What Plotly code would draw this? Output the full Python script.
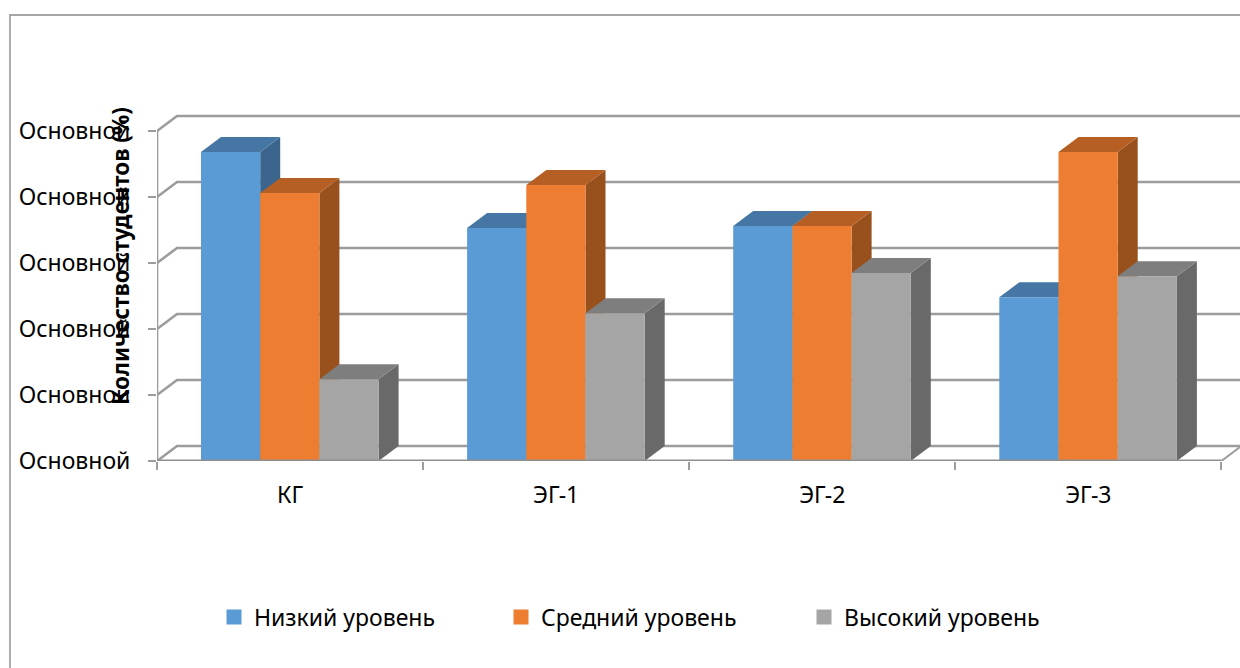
import plotly.graph_objects as go

# Share of students at each level per group, percent
categories = ["КГ", "ЭГ-1", "ЭГ-2", "ЭГ-3"]
low_level = [46.8, 35.3, 35.6, 24.8]
mid_level = [40.6, 41.8, 35.6, 46.8]
high_level = [12.4, 22.4, 28.5, 28.0]
series_names = ["Низкий уровень", "Средний уровень", "Высокий уровень"]
y_ticks = [0, 10, 20, 30, 40, 50]
y_tick_labels = ["Основной"] * 6
axis_title = "Количество студентов (%)"

FRONT = ["#5b9bd5", "#ed7d31", "#a5a5a5"]
TOP = ["#4676a3", "#b55f25", "#7e7e7e"]
SIDE = ["#3c658d", "#98501c", "#696969"]
GRID = "#9c9c9c"
FONT = "Noto Sans"
SIZE = 23
INK = "#000000"

# Plot frame in page pixels
LEFT, BASE, TOP_PX = 157, 461, 100
PLOT_W, PLOT_H = 1240 - LEFT, BASE - TOP_PX
UNIT_X = 266.1
UNIT_Y = 6.6

# Oblique projection of the 3D box, in data units
DX = 20 / UNIT_X
DY = 15 / UNIT_Y
BAR_W = 59.2 / UNIT_X
GROUP_PAD = 44 / UNIT_X
X_MAX = PLOT_W / UNIT_X
Y_MAX = PLOT_H / UNIT_Y

fig = go.Figure()


def polygon(xs, ys, color):
    fig.add_trace(go.Scatter(x=xs, y=ys, mode="lines", fill="toself", fillcolor=color,
                             line=dict(width=0), showlegend=False, hoverinfo="skip"))


def wire(xs, ys, width=2.6, color=GRID):
    fig.add_trace(go.Scatter(x=xs, y=ys, mode="lines", line=dict(color=color, width=width),
                             showlegend=False, hoverinfo="skip", cliponaxis=False))


# Back wall gridlines with their slanted left edges
for v in y_ticks:
    wire([0, DX, X_MAX], [v, v + DY, v + DY])
# Right edge of the floor and the vertical axis
wire([4, 4 + DX], [0, DY], width=2)
wire([0, 0], [0, 50])

# Boxes are painted left to right so that each front covers its neighbour's side
for g in range(len(categories)):
    for s, values in enumerate([low_level, mid_level, high_level]):
        v = values[g]
        x0 = g + GROUP_PAD + s * BAR_W
        x1 = x0 + BAR_W
        polygon([x1, x1 + DX, x1 + DX, x1, x1], [0, DY, v + DY, v, 0], SIDE[s])
        polygon([x0, x1, x1 + DX, x0 + DX, x0], [v, v, v + DY, v + DY, v], TOP[s])
        polygon([x0, x1, x1, x0, x0], [0, 0, v, v, 0], FRONT[s])

# Front edge of the floor runs over the feet of the boxes
wire([0, 4], [0, 0], width=3, color="#8f8f8f")

# Legend entries, one legend per series for independent spacing
legend_ids = ["legend", "legend2", "legend3"]
for name, color, lid in zip(series_names, FRONT, legend_ids):
    fig.add_trace(go.Scatter(x=[None], y=[None], mode="markers", name=name, legend=lid,
                             marker=dict(symbol="square", size=15, color=color)))


def legend_at(x_px):
    return dict(x=(x_px - LEFT) / PLOT_W, y=(BASE - 617) / PLOT_H,
                xanchor="left", yanchor="middle", bgcolor="rgba(0,0,0,0)",
                font=dict(family=FONT, size=SIZE, color=INK))


fig.update_layout(
    width=1240, height=668, margin=dict(l=LEFT, r=0, t=TOP_PX, b=668 - BASE, pad=0),
    autosize=False, paper_bgcolor="white", plot_bgcolor="white", showlegend=True,
    font=dict(family=FONT, size=SIZE, color=INK),
    legend=legend_at(214), legend2=legend_at(501), legend3=legend_at(804),
    xaxis=dict(range=[0, X_MAX], showgrid=False, zeroline=False, showline=False,
               tickvals=[g + 0.5 for g in range(len(categories))], ticktext=categories,
               ticks="", ticklabelstandoff=18, tickangle=0,
               tickfont=dict(family=FONT, size=SIZE, color=INK),
               minor=dict(tickmode="array", tickvals=[0, 1, 2, 3, 4], ticks="outside",
                          ticklen=8, tickwidth=2, tickcolor=GRID, showgrid=False)),
    yaxis=dict(range=[0, Y_MAX], showgrid=False, zeroline=False, showline=False,
               tickvals=y_ticks, ticktext=y_tick_labels, ticks="outside", ticklen=8,
               tickwidth=2, tickcolor=GRID, ticklabelstandoff=13,
               tickfont=dict(family=FONT, size=SIZE, color=INK)),
    annotations=[dict(text=f"<b>{axis_title}</b>", xref="paper", yref="paper",
                      x=(120 - LEFT) / PLOT_W, y=(BASE - 256) / PLOT_H, textangle=-90,
                      showarrow=False, xanchor="center", yanchor="middle",
                      font=dict(family=FONT, size=22.4, color=INK))],
    shapes=[dict(type="rect", xref="paper", yref="paper",
                 x0=(10 - LEFT) / PLOT_W, x1=1.2, y0=-1.0, y1=(BASE - 15) / PLOT_H,
                 line=dict(color="#a6a6a6", width=1.8), fillcolor="rgba(0,0,0,0)", layer="below")],
)

fig.write_html("out.html", config=dict(displayModeBar=False))
